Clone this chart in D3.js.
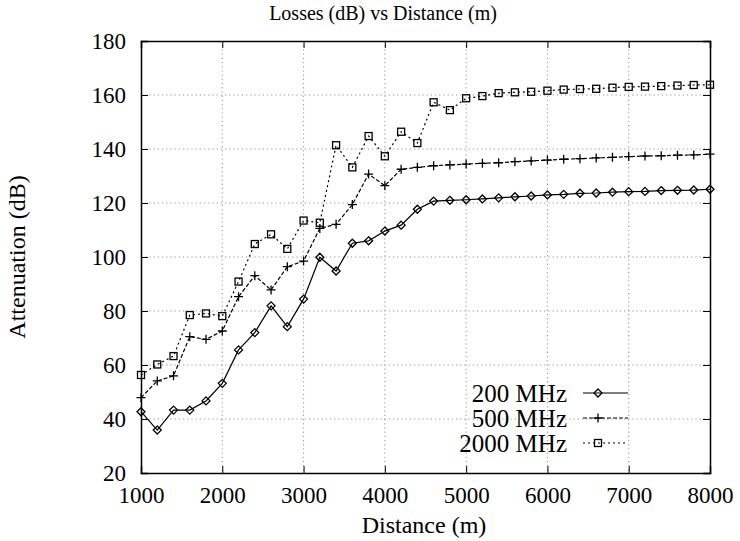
<!DOCTYPE html>
<html>
<head>
<meta charset="utf-8">
<script src="https://cdn.jsdelivr.net/npm/d3@7"></script>
<style>
  html, body { margin: 0; padding: 0; background: #fff; }
  svg { display: block; }
  text { font-family: "Liberation Serif", "DejaVu Serif", serif; fill: #000; }
</style>
</head>
<body>
<svg id="chart" width="740" height="541"></svg>
<script>
const distances = [1000,1200,1400,1600,1800,2000,2200,2400,2600,2800,3000,3200,3400,3600,3800,4000,4200,4400,4600,4800,5000,5200,5400,5600,5800,6000,6200,6400,6600,6800,7000,7200,7400,7600,7800,8000];
const mhz200  = [42.7,35.9,43.3,43.3,46.7,53.2,65.6,72.0,81.9,74.2,84.4,99.9,94.8,105.1,106.0,109.6,111.8,117.7,120.7,121.0,121.2,121.5,121.9,122.3,122.6,123.0,123.2,123.6,123.7,124.0,124.2,124.3,124.6,124.7,124.8,125.1];
const mhz500  = [47.9,54.1,56.0,70.5,69.5,72.6,85.3,93.1,87.8,96.4,98.5,110.6,112.1,119.4,130.7,126.4,132.5,133.2,133.8,134.1,134.4,134.7,134.9,135.3,135.6,135.9,136.2,136.4,136.7,136.9,137.2,137.4,137.5,137.7,137.8,138.1];
const mhz2000 = [56.3,60.2,63.3,78.5,79.1,78.1,90.9,104.8,108.4,103.0,113.5,112.7,141.4,133.2,144.8,137.3,146.4,142.2,157.3,154.4,158.8,159.6,160.7,161.0,161.2,161.6,162.0,162.2,162.3,162.7,163.0,163.1,163.3,163.5,163.7,163.8];
const seriesNames = ["200 MHz", "500 MHz", "2000 MHz"];
const xTicks = [1000,2000,3000,4000,5000,6000,7000,8000];
const yTicks = [20,40,60,80,100,120,140,160,180];
const titleText = "Losses (dB) vs Distance (m)";
const xLabel = "Distance (m)";
const yLabel = "Attenuation (dB)";

const svg = d3.select("#chart");
const L = 141, R = 710, T = 41, B = 473;
const x = d3.scaleLinear().domain([1000, 8000]).range([L, R]);
const y = d3.scaleLinear().domain([20, 180]).range([B, T]);

// grid
const grid = svg.append("g").attr("stroke", "#777").attr("stroke-width", 0.8).attr("stroke-dasharray", "1.2,3");
grid.selectAll(".gx").data(xTicks.slice(1, -1)).enter().append("line")
  .attr("x1", d => x(d)).attr("x2", d => x(d)).attr("y1", T).attr("y2", B);
grid.selectAll(".gy").data(yTicks.slice(1, -1)).enter().append("line")
  .attr("y1", d => y(d)).attr("y2", d => y(d)).attr("x1", L).attr("x2", R);

// axes (ticks inward on all sides)
const tk = 7;
const axB = svg.append("g").attr("transform", `translate(0,${B})`)
  .call(d3.axisBottom(x).tickValues(xTicks).tickSize(-tk).tickPadding(14).tickFormat(d3.format("d")));
const axT = svg.append("g").attr("transform", `translate(0,${T})`)
  .call(d3.axisTop(x).tickValues(xTicks).tickSize(-tk).tickFormat(""));
const axL = svg.append("g").attr("transform", `translate(${L},0)`)
  .call(d3.axisLeft(y).tickValues(yTicks).tickSize(-tk).tickPadding(15).tickFormat(d3.format("d")));
const axR = svg.append("g").attr("transform", `translate(${R},0)`)
  .call(d3.axisRight(y).tickValues(yTicks).tickSize(-tk).tickFormat(""));
[axB, axT, axL, axR].forEach(a => {
  a.select(".domain").attr("stroke", "#000").attr("stroke-width", 1.5);
  a.selectAll(".tick line").attr("stroke", "#000").attr("stroke-width", 1);
  a.selectAll("text").attr("font-family", "Liberation Serif").attr("font-size", 23).attr("fill", "#000");
});

// titles
svg.append("text").attr("x", 383).attr("y", 20).attr("text-anchor", "middle")
  .attr("font-size", 20).text(titleText);
svg.append("text").attr("x", 424).attr("y", 533).attr("text-anchor", "middle")
  .attr("font-size", 24).text(xLabel);
svg.append("text").attr("transform", "translate(25,257) rotate(-90)").attr("text-anchor", "middle")
  .attr("font-size", 24).text(yLabel);

// series
const series = [
  { name: seriesNames[0], values: mhz200, dash: null, marker: "diamond" },
  { name: seriesNames[1], values: mhz500, dash: "4,2", marker: "plus" },
  { name: seriesNames[2], values: mhz2000, dash: "2,3", marker: "square" }
];

function drawMarker(g, type, cx, cy) {
  if (type === "diamond") {
    g.append("path").attr("d", `M${cx},${cy-4}L${cx+4},${cy}L${cx},${cy+4}L${cx-4},${cy}Z`)
      .attr("fill", "none").attr("stroke", "#000").attr("stroke-width", 1.3);
  } else if (type === "plus") {
    g.append("path").attr("d", `M${cx-4.5},${cy}H${cx+4.5}M${cx},${cy-4.5}V${cy+4.5}`)
      .attr("fill", "none").attr("stroke", "#000").attr("stroke-width", 1.3);
  } else {
    g.append("rect").attr("x", cx-3.5).attr("y", cy-3.5).attr("width", 7).attr("height", 7)
      .attr("fill", "none").attr("stroke", "#000").attr("stroke-width", 1.3);
  }
}

const line = d3.line().x((d, i) => x(distances[i])).y(d => y(d));
series.forEach(s => {
  const g = svg.append("g");
  g.append("path").datum(s.values).attr("d", line)
    .attr("fill", "none").attr("stroke", "#000").attr("stroke-width", 1.2)
    .attr("stroke-dasharray", s.dash);
  s.values.forEach((v, i) => drawMarker(g, s.marker, x(distances[i]), y(v)));
});

// legend
const legY = [393, 418, 443];
series.forEach((s, i) => {
  const g = svg.append("g");
  g.append("text").attr("x", 567).attr("y", legY[i]).attr("dy", "0.35em")
    .attr("text-anchor", "end").attr("font-size", 25).text(s.name);
  g.append("line").attr("x1", 583).attr("x2", 628).attr("y1", legY[i]).attr("y2", legY[i])
    .attr("stroke", "#000").attr("stroke-width", 1.2).attr("stroke-dasharray", s.dash);
  drawMarker(g, s.marker, 598, legY[i]);
});
</script>
</body>
</html>
